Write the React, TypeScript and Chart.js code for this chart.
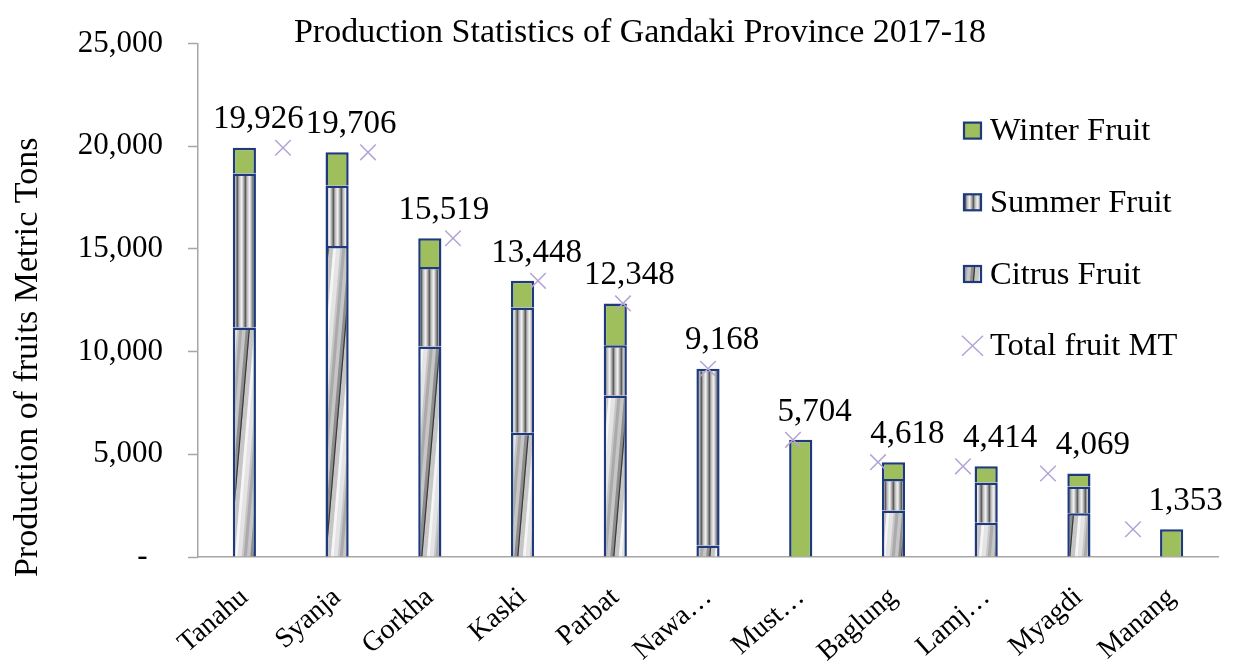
import React, { useEffect, useRef } from "react";
import { Chart, registerables } from "chart.js";

Chart.register(...registerables);

const titleText = "Production Statistics of Gandaki Province 2017-18";
const yTitleText = "Production of fruits Metric Tons";
const districts = ["Tanahu", "Syanja", "Gorkha", "Kaski", "Parbat", "Nawa…", "Must…", "Baglung", "Lamj…", "Myagdi", "Manang"];
const citrusFruit = [11180, 15150, 10250, 6050, 7860, 560, 0, 2260, 1670, 2130, 0];
const summerFruit = [7490, 2940, 3870, 6100, 2450, 8608, 0, 1540, 1960, 1300, 0];
const winterFruit = [1256, 1616, 1399, 1298, 2038, 0, 5704, 818, 784, 639, 1353];
const totalFruit = [19926, 19706, 15519, 13448, 12348, 9168, 5704, 4618, 4414, 4069, 1353];
const seriesNames = ["Winter Fruit", "Summer Fruit", "Citrus Fruit", "Total fruit MT"];
const yMin = 0;
const yMax = 25000;
const yStep = 5000;

const FONT = "'Liberation Serif', 'Times New Roman', serif";
const NAVY = "#1F3A7C";
const GREEN = "#9FBE5C";
const PURPLE = "#B4A4D6";
const AXIS = "#A6A6A6";

function fmt(v: number): string {
  return v.toLocaleString("en-US");
}

function makeSummerPattern(ctx: CanvasRenderingContext2D): CanvasPattern | string {
  const c = document.createElement("canvas");
  c.width = 8;
  c.height = 4;
  const g = c.getContext("2d");
  if (!g) return "#cccccc";
  const grad = g.createLinearGradient(0, 0, 8, 0);
  grad.addColorStop(0, "#d0d0d0");
  grad.addColorStop(0.22, "#f4f4f4");
  grad.addColorStop(0.5, "#9a9a9a");
  grad.addColorStop(0.7, "#5a5a5a");
  grad.addColorStop(0.85, "#b0b0b0");
  grad.addColorStop(1, "#d0d0d0");
  g.fillStyle = grad;
  g.fillRect(0, 0, 8, 4);
  return ctx.createPattern(c, "repeat") || "#cccccc";
}

function makeCitrusPattern(ctx: CanvasRenderingContext2D): CanvasPattern | string {
  const W = 24;
  const H = 280;
  const c = document.createElement("canvas");
  c.width = W;
  c.height = H;
  const g = c.getContext("2d");
  if (!g) return "#cccccc";
  g.fillStyle = "#c6c6c6";
  g.fillRect(0, 0, W, H);
  const line = (x0: number, color: string, w: number) => {
    g.strokeStyle = color;
    g.lineWidth = w;
    for (const dx of [-W, 0, W, 2 * W]) {
      g.beginPath();
      g.moveTo(x0 + dx, 0);
      g.lineTo(x0 + dx - W, H);
      g.stroke();
    }
  };
  line(22, "#e4e4e4", 7);
  line(20, "#f6f6f6", 2.5);
  line(12, "#8e8e8e", 4);
  line(13.5, "#3a3a3a", 1.2);
  line(5, "#aaaaaa", 3);
  return ctx.createPattern(c, "repeat") || "#cccccc";
}

export default function App() {
  const canvasRef = useRef<HTMLCanvasElement | null>(null);

  useEffect(() => {
    const canvas = canvasRef.current;
    if (!canvas) return;
    const ctx = canvas.getContext("2d");
    if (!ctx) return;
    const summerFill = makeSummerPattern(ctx);
    const citrusFill = makeCitrusPattern(ctx);

    const overlay = {
      id: "overlay",
      afterDatasetsDraw(chart: any) {
        const c = chart.ctx as CanvasRenderingContext2D;
        const xs = chart.scales.x;
        const ys = chart.scales.y;
        c.save();
        c.fillStyle = "#000";
        c.font = `33px ${FONT}`;
        c.textAlign = "center";
        c.textBaseline = "middle";
        totalFruit.forEach((v, i) => {
          const x = xs.getPixelForValue(i) + 14;
          const y = ys.getPixelForValue(v) - 28;
          c.fillText(fmt(v), x, y);
        });
        c.restore();
      },
      afterDraw(chart: any) {
        const c = chart.ctx as CanvasRenderingContext2D;
        const area = chart.chartArea;
        c.save();
        // title
        c.fillStyle = "#000";
        c.font = `34px ${FONT}`;
        c.textAlign = "center";
        c.textBaseline = "alphabetic";
        c.fillText(titleText, 640, 42);
        // y axis title
        c.save();
        c.translate(28, (area.top + area.bottom) / 2 + 57);
        c.rotate(-Math.PI / 2);
        c.font = `34px ${FONT}`;
        c.textAlign = "center";
        c.textBaseline = "middle";
        c.fillText(yTitleText, 0, 0);
        c.restore();
        // legend
        const fills: (string | CanvasPattern)[] = [GREEN, summerFill, citrusFill];
        const bx = area.right - 254;
        const rowY = (k: number) => area.top + 87 + k * 71.7;
        c.font = `32.5px ${FONT}`;
        c.textAlign = "left";
        c.textBaseline = "middle";
        seriesNames.forEach((name, k) => {
          const cy = rowY(k);
          if (k < 3) {
            c.fillStyle = fills[k] as any;
            c.fillRect(bx, cy - 8, 17, 16);
            c.strokeStyle = NAVY;
            c.lineWidth = 2.2;
            c.strokeRect(bx, cy - 8, 17, 16);
          } else {
            c.strokeStyle = PURPLE;
            c.lineWidth = 1.5;
            c.beginPath();
            c.moveTo(bx - 2, cy - 10);
            c.lineTo(bx + 19, cy + 10);
            c.moveTo(bx + 19, cy - 10);
            c.lineTo(bx - 2, cy + 10);
            c.stroke();
          }
          c.fillStyle = "#000";
          c.fillText(name, bx + 26, cy + 1);
        });
        c.restore();
      },
    };

    const barCommon = {
      type: "bar" as const,
      borderColor: NAVY,
      borderWidth: 2.5,
      borderSkipped: "start" as const,
      categoryPercentage: 1,
      barPercentage: 0.25,
      grouped: false,
      xAxisID: "x",
      yAxisID: "y",
      stack: "fruit",
    };

    const chart = new Chart(canvas, {
      type: "bar",
      data: {
        labels: districts,
        datasets: [
          { ...barCommon, label: seriesNames[2], data: citrusFruit, backgroundColor: citrusFill as any, order: 2 },
          { ...barCommon, label: seriesNames[1], data: summerFruit, backgroundColor: summerFill as any, order: 2 },
          { ...barCommon, label: seriesNames[0], data: winterFruit, backgroundColor: GREEN, order: 2 },
          {
            type: "line" as const,
            label: seriesNames[3],
            data: totalFruit.map((v, i) => ({ x: i, y: v })),
            xAxisID: "x2",
            yAxisID: "y",
            showLine: false,
            pointStyle: "crossRot",
            pointRadius: 11,
            pointHoverRadius: 11,
            pointBorderColor: PURPLE,
            pointBackgroundColor: PURPLE,
            pointBorderWidth: 1.5,
            borderColor: PURPLE,
            order: 1,
          } as any,
        ],
      },
      options: {
        animation: false,
        responsive: true,
        maintainAspectRatio: false,
        layout: { padding: { top: 40, right: 29, left: 0, bottom: 0 } },
        plugins: {
          legend: { display: false },
          title: { display: false },
          tooltip: { enabled: false },
        },
        scales: {
          x: {
            type: "category",
            stacked: true,
            offset: true,
            position: "bottom",
            grid: { display: true, drawOnChartArea: false, drawTicks: false },
            border: { display: true, color: AXIS, width: 1.5 },
            ticks: {
              autoSkip: false,
              minRotation: 41,
              maxRotation: 41,
              padding: 24,
              color: "#000",
              font: { family: FONT, size: 28 },
            },
            afterFit(scale: any) {
              scale.height = 104;
            },
          },
          x2: {
            type: "linear",
            display: true,
            position: "top",
            offset: false,
            min: -1,
            max: 11,
            grid: { display: false, drawTicks: false },
            border: { display: false },
            ticks: { display: false },
            afterFit(scale: any) {
              scale.height = 0;
            },
          },
          y: {
            type: "linear",
            stacked: true,
            min: yMin,
            max: yMax,
            grid: { display: true, drawOnChartArea: false, drawTicks: true, tickLength: 10, tickColor: AXIS, tickWidth: 1.5 },
            border: { display: true, color: AXIS, width: 1.5 },
            ticks: {
              stepSize: yStep,
              padding: 25,
              color: "#000",
              font: { family: FONT, size: 31 },
              callback: (v: any) => (Number(v) === 0 ? "-  " : fmt(Number(v))),
            },
            afterFit(scale: any) {
              scale.width = 198;
            },
          },
        },
      },
      plugins: [overlay],
    } as any);

    return () => chart.destroy();
  }, []);

  return (
    <div style={{ position: "fixed", left: 0, top: 0, width: 1247, height: 661, background: "#fff" }}>
      <canvas ref={canvasRef} />
    </div>
  );
}
